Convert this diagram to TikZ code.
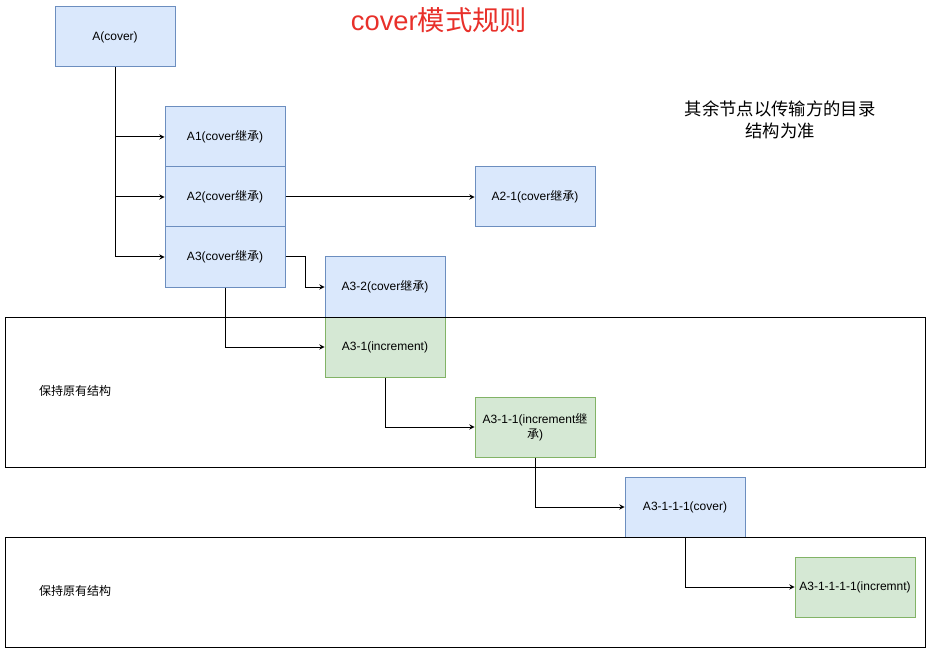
\documentclass[tikz,border=0pt]{standalone}
\usepackage{tikz}
\usepackage{xcolor}
\usepackage{fontspec}
\setmainfont{Liberation Sans}
\newfontfamily\cjk{Noto Sans CJK SC}
\usetikzlibrary{arrows}

\definecolor{bluefill}{HTML}{DAE8FC}
\definecolor{blueline}{HTML}{6C8EBF}
\definecolor{greenfill}{HTML}{D5E8D4}
\definecolor{greenline}{HTML}{82B366}
\definecolor{titlered}{HTML}{E8302A}

\begin{document}
\begin{tikzpicture}[x=0.75pt,y=-0.75pt]
\tikzset{box/.style={draw,line width=0.75pt,minimum width=90pt,minimum height=45pt,inner sep=1pt,font=\fontsize{9}{11}\selectfont,align=center}}
\tikzset{bluebox/.style={box,fill=bluefill,draw=blueline}}
\tikzset{greenbox/.style={box,fill=greenfill,draw=greenline}}
\tikzset{link/.style={draw=black,-stealth,line width=0.75pt}}
\tikzset{frame/.style={draw=black,line width=0.75pt}}

\useasboundingbox (0,0) rectangle (931,652);

\node[bluebox] (a) at (115,37) {A(cover)};
\node[bluebox] (a1) at (225,137) {A1(cover{\cjk 继承})};
\node[bluebox] (a2) at (225,197) {A2(cover{\cjk 继承})};
\node[bluebox] (a3) at (225,257) {A3(cover{\cjk 继承})};
\node[bluebox] (a21) at (535,197) {A2-1(cover{\cjk 继承})};
\node[bluebox] (a32) at (385,287) {A3-2(cover{\cjk 继承})};
\node[greenbox] (a31) at (385,347) {A3-1(increment)};
\node[greenbox] (a311) at (535,427) {A3-1-1(increment{\cjk 继}\\{\cjk 承})};
\node[bluebox] (a3111) at (685,507) {A3-1-1-1(cover)};
\node[greenbox] (a31111) at (855,587) {A3-1-1-1-1(incremnt)};

% outer frames
\draw[frame] (5,317) rectangle (925,467);
\draw[frame] (5,537) rectangle (925,647);
\node[font=\cjk\fontsize{9}{11}\selectfont] (keep1) at (75,391) {保持原有结构};
\node[font=\cjk\fontsize{9}{11}\selectfont] (keep2) at (75,591) {保持原有结构};

\node[text=titlered,font=\fontsize{20.5}{24}\selectfont] (title) at (439,20) {cover{\cjk 模式规则}};
\node[font=\cjk\fontsize{13}{16}\selectfont,align=center] (note) at (780,120) {其余节点以传输方的目录\\结构为准};

\draw[link] (a.south) |- (a1.west);
\draw[link] (a.south) |- (a2.west);
\draw[link] (a.south) |- (a3.west);
\draw[link] (a2.east) -- (a21.west);
\draw[link] (a3.east) -| (305,287) -- (a32.west);
\draw[link] (a3.south) |- (a31.west);
\draw[link] (a31.south) |- (a311.west);
\draw[link] (a311.south) |- (a3111.west);
\draw[link] (a3111.south) |- (a31111.west);

\end{tikzpicture}
\end{document}
